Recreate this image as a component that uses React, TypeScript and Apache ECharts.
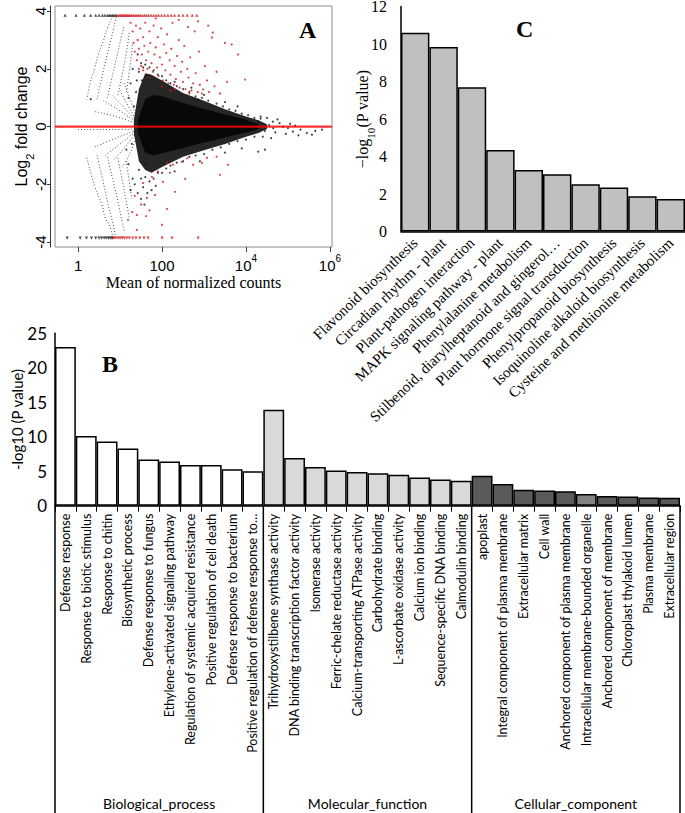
import React, { useEffect, useRef } from "react";
import * as echarts from "echarts";

// ---------- Panel A (MA plot) : x = log10(mean of normalized counts), y = log2 fold change ----------
const maEnvLog = [1.33, 1.45, 1.6, 1.75, 2.0, 2.5, 3.0, 3.5, 4.0, 4.3, 4.5];
const maEnvUpper = [0.25, 1.3, 1.85, 1.8, 1.6, 1.17, 0.9, 0.6, 0.35, 0.22, 0.08];
const maEnvLower = [-0.25, -1.2, -1.5, -1.6, -1.4, -1.04, -0.82, -0.6, -0.35, -0.22, -0.08];
const maCoreLog = [1.42, 1.6, 1.8, 2.0, 2.5, 3.0, 3.5, 4.0, 4.3];
const maCoreUpper = [0.2, 0.95, 1.1, 1.05, 0.82, 0.62, 0.42, 0.24, 0.08];
const maCoreLower = [-0.2, -0.9, -1.0, -0.92, -0.74, -0.55, -0.38, -0.2, -0.08];

const maFanLines = [
  [[0.21, 0.94], [0.29, 1.53], [0.4, 2.05], [0.48, 2.5], [0.6, 2.96], [0.71, 3.44], [0.83, 3.86]],
  [[0.45, 0.95], [0.55, 1.6], [0.66, 2.3], [0.78, 3.0], [0.92, 3.86]],
  [[0.7, 1.0], [0.8, 1.65], [0.92, 2.4], [1.03, 3.1], [1.1, 3.5]],
  [[0.95, 1.1], [1.05, 1.8], [1.15, 2.55], [1.22, 3.25]],
  [[1.15, 1.2], [1.22, 1.9], [1.28, 2.6], [1.3, 2.9]],
  [[0.0, -0.1], [0.7, -0.1], [1.42, -0.08]],
  [[0.4, 0.52], [0.9, 0.35], [1.42, 0.08]],
  [[0.6, 0.9], [1.0, 0.55], [1.42, 0.1]],
  [[0.8, 1.1], [1.1, 0.65], [1.42, 0.12]],
  [[1.0, 1.25], [1.2, 0.7], [1.42, 0.15]],
  [[1.1, 1.5], [1.28, 0.8], [1.42, 0.2]],
  [[0.21, -1.08], [0.4, -2.09], [0.57, -2.71], [0.64, -3.13], [0.76, -3.48], [0.83, -3.86]],
  [[0.45, -1.0], [0.58, -1.8], [0.7, -2.6], [0.82, -3.3], [0.9, -3.86]],
  [[0.7, -1.05], [0.82, -1.8], [0.95, -2.6], [1.05, -3.3], [1.1, -3.6]],
  [[0.95, -1.1], [1.05, -1.85], [1.15, -2.6], [1.22, -3.2]],
  [[1.15, -1.2], [1.22, -1.9], [1.28, -2.5]],
  [[0.4, -0.7], [0.9, -0.4], [1.42, -0.1]],
  [[0.65, -1.0], [1.0, -0.6], [1.42, -0.12]],
  [[0.85, -1.15], [1.12, -0.7], [1.42, -0.14]],
  [[1.05, -1.4], [1.26, -0.85], [1.42, -0.2]],
];

const maBlackPoints = [
  [1.4, 1.6], [1.45, 1.9], [1.5, 2.2], [1.42, 2.5], [1.38, 1.2], [1.55, 2.05], [1.6, 2.15], [1.7, 2.05],
  [1.8, 1.95], [1.9, 1.8], [2.0, 1.75], [2.1, 1.6], [2.2, 1.5], [2.35, 1.4], [2.5, 1.3], [2.65, 1.2],
  [2.8, 1.05], [2.95, 1.0], [3.1, 0.9], [3.3, 0.8], [3.45, 0.7], [3.6, 0.6], [3.75, 0.55], [3.9, 0.45],
  [4.05, 0.4], [4.2, 0.3], [4.35, 0.28], [2.3, 1.55], [2.7, 1.35], [3.0, 1.1], [3.5, 0.85], [3.8, 0.7],
  [1.45, -1.5], [1.5, -1.8], [1.55, -2.1], [1.6, -1.75], [1.65, -2.3], [1.7, -1.9], [1.8, -1.8], [1.9, -1.6],
  [2.0, -1.6], [2.1, -1.45], [2.2, -1.35], [2.35, -1.25], [2.5, -1.2], [2.65, -1.05], [2.8, -1.0], [3.0, -0.95],
  [3.2, -0.8], [3.4, -0.72], [3.6, -0.6], [3.8, -0.5], [4.0, -0.45], [4.2, -0.35], [1.5, -2.5], [1.58, -2.7],
  [1.42, -2.3], [1.35, -2.0], [1.75, -2.2], [1.85, -2.05], [2.3, -1.55], [2.9, -1.2], [3.5, -0.9], [4.29, -0.87],
  [4.45, -0.8], [3.9, -0.75], [4.29, 0.17], [4.64, 0.17], [4.88, 0.0], [5.17, 0.03], [5.57, -0.28], [5.81, -0.1],
  [5.12, -0.17], [4.5, 0.3], [4.7, -0.2], [4.4, -0.35], [4.95, -0.25], [5.3, -0.1], [4.55, 0.05], [4.8, 0.12],
  [5.0, -0.05], [4.45, -0.15], [4.6, -0.4], [4.35, 0.35], [4.75, 0.25], [5.45, -0.22], [4.65, -0.05], [5.05, 0.1],
  [5.25, -0.3], [5.65, -0.15], [1.25, 1.5], [1.3, 2.0], [1.2, 1.0], [1.33, 0.7], [1.28, -0.6], [1.2, -1.3],
  [1.3, -1.8], [1.25, -2.2], [1.15, -0.8], [0.3, 0.95], [2.86, 0.94], [1.62, -1.3], [1.68, 1.75], [1.52, 1.6],
];

const maRedPoints = [
  [1.25, 3.6], [1.3, 3.3], [1.32, 2.9], [1.35, 2.6], [1.38, 3.5], [1.4, 2.3], [1.42, 3.0], [1.45, 2.7],
  [1.48, 3.4], [1.5, 2.1], [1.52, 2.5], [1.55, 3.1], [1.58, 2.8], [1.6, 3.6], [1.62, 2.3], [1.65, 2.0],
  [1.67, 2.6], [1.7, 3.3], [1.72, 2.9], [1.75, 2.2], [1.78, 1.9], [1.8, 3.5], [1.82, 2.5], [1.85, 2.75],
  [1.88, 2.05], [1.9, 3.1], [1.92, 1.75], [1.95, 2.4], [1.98, 3.4], [2.0, 2.15], [2.02, 1.6], [2.05, 2.85],
  [2.08, 1.95], [2.1, 2.55], [2.12, 3.2], [2.15, 1.5], [2.18, 2.3], [2.2, 1.8], [2.22, 2.7], [2.25, 3.6],
  [2.28, 1.45], [2.3, 2.1], [2.33, 1.65], [2.36, 2.45], [2.4, 3.0], [2.42, 1.35], [2.45, 1.9], [2.48, 2.25],
  [2.5, 1.55], [2.53, 2.8], [2.56, 1.3], [2.6, 2.0], [2.63, 1.7], [2.67, 2.4], [2.7, 1.25], [2.74, 1.5],
  [2.78, 3.3], [2.8, 1.85], [2.85, 1.2], [2.88, 2.6], [2.9, 1.45], [2.95, 1.15], [2.98, 1.29], [3.02, 2.1],
  [3.07, 1.6], [3.12, 1.2], [3.19, 3.09], [3.21, 3.26], [3.25, 1.4], [3.3, 1.9], [3.38, 1.15], [3.5, 2.9],
  [3.55, 1.55], [3.66, 2.85], [3.81, 2.5], [3.98, 1.63], [2.86, 3.65], [3.1, 3.5], [1.85, 3.75], [2.4, 3.7],
  [2.62, 3.45], [1.55, 1.95], [1.45, 2.0], [1.68, 1.7], [2.0, 1.4], [2.3, 1.3], [2.65, 1.15], [2.2, 1.25],
  [2.12, -1.25], [2.47, -1.22], [2.74, -1.32], [2.95, -1.25], [3.07, -1.08], [3.3, -1.04], [3.57, -1.32],
  [3.38, -1.67], [2.55, -1.81], [2.31, -2.26], [2.12, -2.85], [1.83, -2.37], [1.64, -2.47], [1.55, -1.95],
  [1.76, -1.74], [2.02, -1.91], [2.19, -1.6], [1.4, -3.06], [1.62, -3.1], [1.19, -3.23], [1.4, -3.58],
  [1.29, -2.96], [2.26, -1.32], [1.9, -1.55], [2.6, -1.1], [1.7, -2.9], [2.0, -3.4], [1.5, -2.7], [1.35, -2.4],
];

const maCapValue = 3.86;
const maCapTopBlack = [-0.31, -0.05, 0.15, 0.3, 0.42, 0.5, 0.58, 0.64, 0.7, 0.74, 0.78, 0.82, 0.86, 0.9];
const maCapTopRed = [0.93, 0.97, 1.0, 1.03, 1.06, 1.09, 1.12, 1.15, 1.18, 1.21, 1.24, 1.28, 1.32, 1.36, 1.4, 1.44,
  1.48, 1.53, 1.58, 1.63, 1.68, 1.74, 1.8, 1.86, 1.92, 1.99, 2.06, 2.14, 2.22, 2.3, 2.4, 2.5, 2.6, 2.72, 2.83];
const maCapBottomBlack = [-0.26, 0.05, 0.2, 0.32, 0.42, 0.5, 0.56, 0.62, 0.67, 0.72, 0.76, 0.8, 0.83];
const maCapBottomRed = [0.85, 0.9, 0.95, 1.0, 1.05, 1.1, 1.16, 1.22, 1.3, 1.38, 1.47, 1.57, 1.67, 2.0, 2.24, 2.86];

const maXTicks = [0, 2, 4, 6];
const maYTicks = [-4, -2, 0, 2, 4];

// ---------- Panel C (KEGG) ----------
const keggCats = [
  "Flavonoid biosynthesis",
  "Circadian rhythm - plant",
  "Plant-pathogen interaction",
  "MAPK signaling pathway - plant",
  "Phenylalanine metabolism",
  "Stilbenoid, diarylheptanoid and gingerol…",
  "Plant hormone signal transduction",
  "Phenylpropanoid biosynthesis",
  "Isoquinoline alkaloid biosynthesis",
  "Cysteine and methionine metabolism",
];
const keggValues = [10.6, 9.84, 7.69, 4.35, 3.28, 3.05, 2.52, 2.35, 1.88, 1.73];

// ---------- Panel B (GO) ----------
const goCats = [
  "Defense response",
  "Response to biotic stimulus",
  "Response to chitin",
  "Biosynthetic process",
  "Defense response to fungus",
  "Ethylene-activated signaling pathway",
  "Regulation of systemic acquired resistance",
  "Positive regulation of cell death",
  "Defense response to bacterium",
  "Positive regulation of defense response to…",
  "Trihydroxystilbene synthase activity",
  "DNA binding transcription factor activity",
  "Isomerase activity",
  "Ferric-chelate reductase activity",
  "Calcium-transporting ATPase activity",
  "Carbohydrate binding",
  "L-ascorbate oxidase activity",
  "Calcium ion binding",
  "Sequence-specific DNA binding",
  "Calmodulin binding",
  "apoplast",
  "Integral component of plasma membrane",
  "Extracellular matrix",
  "Cell wall",
  "Anchored component of plasma membrane",
  "Intracellular membrane-bounded organelle",
  "Anchored component of membrane",
  "Chloroplast thylakoid lumen",
  "Plasma membrane",
  "Extracellular region",
];
const goValues = [
  23.0, 10.1, 9.3, 8.3, 6.7, 6.4, 5.9, 5.9, 5.3, 5.0,
  13.9, 6.9, 5.6, 5.1, 4.9, 4.7, 4.5, 4.1, 3.8, 3.6,
  4.35, 3.15, 2.3, 2.2, 2.1, 1.7, 1.4, 1.35, 1.2, 1.15,
];
const goGroups = [
  "BP", "BP", "BP", "BP", "BP", "BP", "BP", "BP", "BP", "BP",
  "MF", "MF", "MF", "MF", "MF", "MF", "MF", "MF", "MF", "MF",
  "CC", "CC", "CC", "CC", "CC", "CC", "CC", "CC", "CC", "CC",
];
const goGroupNames = ["Biological_process", "Molecular_function", "Cellular_component"];

// ---------- styling ----------
const groupColor: Record<string, string> = { BP: "#ffffff", MF: "#d9d9d9", CC: "#5a5a5a" };
const highlightColor = "#828282";
const SANS = "Liberation Sans";
const SERIF = "Liberation Serif";
const CAL = "Lato";

const A_GRID = { left: 55, top: 6, width: 277, height: 241 };
const C_GRID = { left: 401, top: 6.5, width: 284, height: 225 };
const B_GRID = { left: 55, top: 333.3, width: 625, height: 172.4 };

function polygonSeries(xs: number[], up: number[], lo: number[], fill: string, z: number) {
  return {
    type: "custom",
    xAxisIndex: 0,
    yAxisIndex: 0,
    z,
    silent: true,
    data: [[xs[0], 0]],
    renderItem: (_p: any, api: any) => {
      const pts: number[][] = [];
      for (let i = 0; i < xs.length; i++) pts.push(api.coord([xs[i], up[i]]));
      for (let i = xs.length - 1; i >= 0; i--) pts.push(api.coord([xs[i], lo[i]]));
      return { type: "polygon", shape: { points: pts }, style: { fill } };
    },
  };
}

export default function App() {
  const ref = useRef<HTMLDivElement>(null);
  useEffect(() => {
    if (!ref.current) return;
    const chart = echarts.init(ref.current, null, { renderer: "svg" });
    const bw = B_GRID.width / goCats.length;
    const bBottom = B_GRID.top + B_GRID.height;
    const sep = [0, 10, 20, 30].map((k) => B_GRID.left + k * bw);

    const fanSeries = maFanLines.map((pts) => ({
      type: "line",
      xAxisIndex: 0,
      yAxisIndex: 0,
      data: pts,
      smooth: true,
      showSymbol: false,
      silent: true,
      z: 4,
      lineStyle: { color: "#222", width: 0.9, type: [0.9, 2.2] },
    }));

    const option: any = {
      animation: false,
      backgroundColor: "#ffffff",
      grid: [
        { ...A_GRID, outerBoundsMode: "none", containLabel: false, show: true, borderColor: "#8c8c8c", borderWidth: 1, backgroundColor: "transparent" },
        { ...C_GRID, outerBoundsMode: "none", containLabel: false },
        { ...B_GRID, outerBoundsMode: "none", containLabel: false },
      ],
      xAxis: [
        {
          type: "value",
          gridIndex: 0,
          min: -0.55,
          max: 6.05,
          splitLine: { show: false },
          axisLine: { show: false, onZero: false },
          axisTick: { show: true, customValues: maXTicks, length: 5, lineStyle: { color: "#444" } },
          axisLabel: {
            customValues: maXTicks,
            margin: 6,
            color: "#000",
            fontFamily: SANS,
            fontSize: 15,
            formatter: (v: number) => (v === 0 ? "{b|1}" : v === 2 ? "{b|100}" : `{b|10}{s|${v}}`),
            rich: {
              b: { fontFamily: SANS, fontSize: 15, lineHeight: 20, verticalAlign: "bottom", color: "#000" },
              s: { fontFamily: SANS, fontSize: 10, lineHeight: 20, verticalAlign: "top", color: "#000" },
            },
          },
          name: "Mean of normalized counts",
          nameLocation: "middle",
          nameGap: 27,
          nameMoveOverlap: false,
          nameTextStyle: { fontFamily: SERIF, fontSize: 16, color: "#000" },
        },
        {
          type: "category",
          gridIndex: 1,
          data: keggCats,
          axisLine: { show: true, lineStyle: { color: "#000", width: 1.5 } },
          axisTick: { show: false },
          axisLabel: { interval: 0, rotate: 44, margin: 9, fontFamily: SERIF, fontSize: 15, color: "#000" },
        },
        {
          type: "category",
          gridIndex: 2,
          data: goCats,
          axisLine: { show: true, lineStyle: { color: "#000", width: 1.5 } },
          axisTick: { show: true, interval: 0, length: 6, lineStyle: { color: "#000", width: 1 } },
          axisLabel: { interval: 0, rotate: 90, margin: 8, fontFamily: CAL, fontSize: 12.5, color: "#000" },
        },
      ],
      yAxis: [
        {
          type: "value",
          gridIndex: 0,
          min: -4.17,
          max: 4.18,
          offset: 5,
          splitLine: { show: false },
          axisLine: { show: true, onZero: false, lineStyle: { color: "#333", width: 1 } },
          axisTick: { show: true, customValues: maYTicks, length: 3, lineStyle: { color: "#333" } },
          axisLabel: {
            customValues: maYTicks,
            rotate: 90,
            margin: 10,
            align: "center",
            verticalAlign: "middle",
            fontFamily: SANS,
            fontSize: 15,
            color: "#000",
          },
          name: "{n|Log}{s|2}{n| fold change}",
          nameLocation: "middle",
          nameGap: 15,
          nameMoveOverlap: false,
          nameTextStyle: {
            rich: {
              n: { fontFamily: SANS, fontSize: 16, lineHeight: 22, verticalAlign: "top", color: "#000" },
              s: { fontFamily: SANS, fontSize: 11, lineHeight: 22, verticalAlign: "bottom", color: "#000" },
            },
          },
        },
        {
          type: "value",
          gridIndex: 1,
          min: 0,
          max: 12,
          interval: 2,
          splitLine: { show: false },
          axisLine: { show: true, lineStyle: { color: "#000", width: 1.5 } },
          axisTick: { show: false },
          axisLabel: { margin: 14, fontFamily: SERIF, fontSize: 16, color: "#000" },
          name: "{n|−log}{s|10}{n|(P value)}",
          nameLocation: "middle",
          nameGap: 25,
          nameMoveOverlap: false,
          nameTextStyle: {
            rich: {
              n: { fontFamily: SERIF, fontSize: 16, lineHeight: 22, verticalAlign: "top", color: "#000" },
              s: { fontFamily: SERIF, fontSize: 11, lineHeight: 22, verticalAlign: "bottom", color: "#000" },
            },
          },
        },
        {
          type: "value",
          gridIndex: 2,
          min: 0,
          max: 25,
          interval: 5,
          splitLine: { show: false },
          axisLine: { show: true, lineStyle: { color: "#000", width: 1.5 } },
          axisTick: { show: false },
          axisLabel: { margin: 8, fontFamily: CAL, fontSize: 17, color: "#000" },
          name: "-log10 (P value)",
          nameLocation: "middle",
          nameGap: 31,
          nameMoveOverlap: false,
          nameTextStyle: { fontFamily: CAL, fontSize: 15, color: "#000" },
        },
      ],
      series: [
        polygonSeries(maEnvLog, maEnvUpper, maEnvLower, "#262626", 2),
        polygonSeries(maCoreLog, maCoreUpper, maCoreLower, "#080808", 3),
        ...fanSeries,
        {
          type: "scatter",
          xAxisIndex: 0,
          yAxisIndex: 0,
          data: maBlackPoints,
          symbolSize: 2,
          itemStyle: { color: "#111" },
          silent: true,
          z: 5,
        },
        {
          type: "scatter",
          xAxisIndex: 0,
          yAxisIndex: 0,
          data: maRedPoints,
          symbolSize: 2.2,
          itemStyle: { color: "#d11a1a" },
          silent: true,
          z: 6,
        },
        {
          type: "scatter",
          xAxisIndex: 0,
          yAxisIndex: 0,
          data: maCapTopBlack.map((x) => [x, maCapValue]),
          symbol: "triangle",
          symbolSize: 3.2,
          itemStyle: { color: "#222" },
          silent: true,
          z: 6,
        },
        {
          type: "scatter",
          xAxisIndex: 0,
          yAxisIndex: 0,
          data: maCapTopRed.map((x) => [x, maCapValue]),
          symbol: "triangle",
          symbolSize: 3.2,
          itemStyle: { color: "#d11a1a" },
          silent: true,
          z: 6,
        },
        {
          type: "scatter",
          xAxisIndex: 0,
          yAxisIndex: 0,
          data: maCapBottomBlack.map((x) => [x, -maCapValue]),
          symbol: "triangle",
          symbolRotate: 180,
          symbolSize: 3.2,
          itemStyle: { color: "#222" },
          silent: true,
          z: 6,
        },
        {
          type: "scatter",
          xAxisIndex: 0,
          yAxisIndex: 0,
          data: maCapBottomRed.map((x) => [x, -maCapValue]),
          symbol: "triangle",
          symbolRotate: 180,
          symbolSize: 3.2,
          itemStyle: { color: "#d11a1a" },
          silent: true,
          z: 6,
        },
        {
          type: "line",
          xAxisIndex: 0,
          yAxisIndex: 0,
          data: [[-0.55, 0], [6.05, 0]],
          showSymbol: false,
          silent: true,
          z: 7,
          lineStyle: { color: "#ff0000", width: 2.2, opacity: 0.8 },
        },
        {
          type: "bar",
          xAxisIndex: 1,
          yAxisIndex: 1,
          data: keggValues,
          barCategoryGap: "0%",
          itemStyle: { color: "#c0c0c0", borderColor: "#000", borderWidth: 1.5 },
          silent: true,
        },
        {
          type: "bar",
          xAxisIndex: 2,
          yAxisIndex: 2,
          data: goValues.map((v, i) => ({
            value: v,
            itemStyle: {
              color: goCats[i] === "Intracellular membrane-bounded organelle" ? highlightColor : groupColor[goGroups[i]],
            },
          })),
          barCategoryGap: "0%",
          itemStyle: { borderColor: "#000", borderWidth: 1.5 },
          silent: true,
        },
      ],
      graphic: [
        { type: "text", left: 299, top: 18, style: { text: "A", font: `bold 24px "${SERIF}"`, fill: "#000" } },
        { type: "text", left: 516, top: 17, style: { text: "C", font: `bold 24px "${SERIF}"`, fill: "#000" } },
        { type: "text", left: 102, top: 352, style: { text: "B", font: `bold 24px "${SERIF}"`, fill: "#000" } },
        ...sep.map((x) => ({
          type: "line",
          shape: { x1: x, y1: bBottom, x2: x, y2: 813 },
          style: { stroke: "#000", lineWidth: 1.5 },
        })),
        ...goGroupNames.map((name, g) => ({
          type: "text",
          x: B_GRID.left + (g * 10 + 5) * bw,
          y: 803,
          style: { text: name, font: `14px "${CAL}"`, fill: "#000", align: "center", verticalAlign: "middle" },
        })),
      ],
    };
    chart.setOption(option);
    return () => chart.dispose();
  }, []);

  return <div ref={ref} style={{ position: "fixed", left: 0, top: 0, width: 685, height: 813 }} />;
}
